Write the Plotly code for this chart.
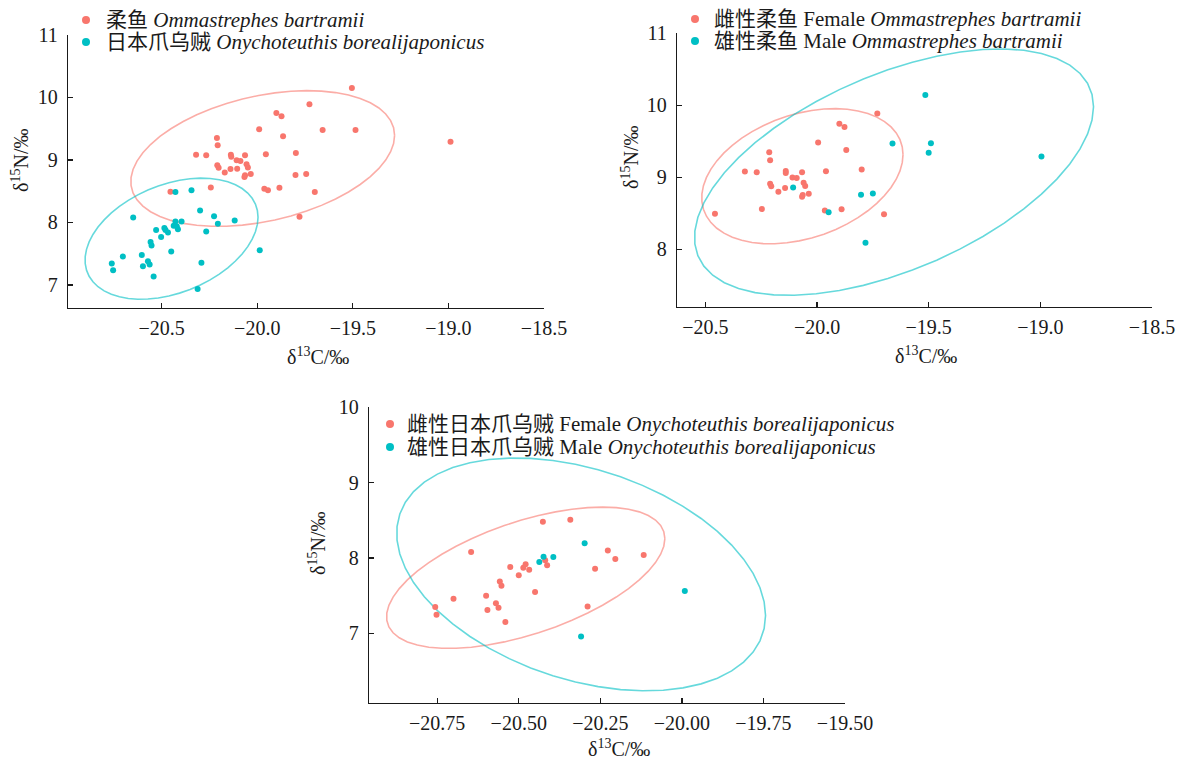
import numpy as np
import plotly.graph_objects as go

# ---------------- data ----------------
# Panel 1: all Ommastrephes bartramii (柔鱼)
ob_x = [-19.505, -19.727, -19.900, -19.873, -19.990, -19.658, -19.486, -19.865, -20.211, -20.207,
        -18.989, -20.320, -20.267, -20.138, -20.136, -20.064, -19.955, -19.798, -20.108, -20.088,
        -20.209, -20.202, -20.170, -20.140, -20.105, -20.056, -20.049, -20.034, -20.064, -20.067,
        -19.800, -19.744, -20.243, -19.963, -19.944, -19.884, -19.699, -20.454, -19.779]
ob_y = [10.15, 9.89, 9.75, 9.70, 9.49, 9.48, 9.48, 9.38, 9.35, 9.235,
        9.29, 9.085, 9.075, 9.085, 9.05, 9.075, 9.09, 9.11, 8.995, 8.984,
        8.914, 8.877, 8.80, 8.856, 8.86, 8.93, 8.88, 8.775, 8.754, 8.727,
        8.76, 8.775, 8.56, 8.54, 8.513, 8.556, 8.487, 8.49, 8.09]

# Panel 1: all Onychoteuthis borealijaponicus (日本爪乌贼)
obj_x = [-20.428, -20.344, -20.299, -20.226, -20.206, -20.118, -20.649, -20.428, -20.396, -20.437,
         -20.421, -20.415, -20.529, -20.486, -20.480, -20.467, -20.503, -20.267, -20.558, -20.553,
         -20.450, -19.987, -20.703, -20.604, -20.761, -20.754, -20.598, -20.572, -20.563, -20.292,
         -20.542, -20.312]
obj_y = [8.487, 8.513, 8.19, 8.10, 7.98, 8.03, 8.08, 8.016, 8.016, 7.947,
         7.94, 7.89, 7.877, 7.91, 7.877, 7.84, 7.765, 7.856, 7.685, 7.63,
         7.535, 7.556, 7.455, 7.48, 7.342, 7.235, 7.30, 7.38, 7.326, 7.353,
         7.134, 6.936]

# Panel 2: female / male Ommastrephes bartramii
obf_x = [-19.730, -19.900, -19.877, -19.995, -19.869, -20.214, -20.210, -20.323, -20.270, -20.140,
         -20.140, -20.067, -19.960, -19.800, -20.110, -20.091, -20.210, -20.205, -20.173, -20.143,
         -20.060, -20.053, -20.067, -20.064, -20.037, -20.247, -19.965, -19.890, -19.700, -20.457]
obf_y = [9.885, 9.745, 9.70, 9.485, 9.378, 9.347, 9.236, 9.08, 9.072, 9.088,
         9.062, 9.072, 9.085, 9.11, 8.998, 8.99, 8.91, 8.875, 8.80, 8.852,
         8.925, 8.88, 8.73, 8.755, 8.773, 8.56, 8.54, 8.557, 8.487, 8.493]
obm_x = [-19.515, -19.662, -19.490, -19.500, -20.107, -19.948, -19.803, -19.750, -19.783, -18.995]
obm_y = [10.145, 9.47, 9.475, 9.343, 8.86, 8.515, 8.757, 8.774, 8.093, 9.288]

# Panel 3: female / male Onychoteuthis borealijaponicus
objf_x = [-20.342, -20.426, -20.646, -20.526, -20.486, -20.479, -20.468, -20.500, -20.419, -20.413,
          -20.558, -20.553, -20.600, -20.700, -20.570, -20.562, -20.596, -20.450, -20.541, -20.756,
          -20.752, -20.289, -20.266, -20.227, -20.204, -20.117]
objf_y = [8.509, 8.482, 8.08, 7.88, 7.87, 7.916, 7.845, 7.77, 7.969, 7.903,
          7.69, 7.633, 7.50, 7.46, 7.40, 7.34, 7.31, 7.549, 7.15, 7.35,
          7.248, 7.358, 7.858, 8.10, 7.987, 8.04]
objm_x = [-20.298, -20.424, -20.394, -20.437, -19.991, -20.309]
objm_y = [8.195, 8.018, 8.013, 7.947, 7.562, 6.96]

names_p1 = ["柔鱼 <i>Ommastrephes bartramii</i>",
            "日本爪乌贼 <i>Onychoteuthis borealijaponicus</i>"]
names_p2 = ["雌性柔鱼 Female <i>Ommastrephes bartramii</i>",
            "雄性柔鱼 Male <i>Ommastrephes bartramii</i>"]
names_p3 = ["雌性日本爪乌贼 Female <i>Onychoteuthis borealijaponicus</i>",
            "雄性日本爪乌贼 Male <i>Onychoteuthis borealijaponicus</i>"]

x_ticks_p1 = [-20.5, -20.0, -19.5, -19.0, -18.5]
y_ticks_p1 = [7, 8, 9, 10, 11]
x_ticks_p2 = [-20.5, -20.0, -19.5, -19.0, -18.5]
y_ticks_p2 = [8, 9, 10, 11]
x_ticks_p3 = [-20.75, -20.50, -20.25, -20.00, -19.75, -19.50]
y_ticks_p3 = [7, 8, 9, 10]

# ---------------- styling ----------------
RED = "#F8766D"
TEAL = "#00BFC4"
RED_L = "rgba(248,118,109,0.6)"
TEAL_L = "rgba(0,191,196,0.6)"
FONT = "Liberation Serif, 'Noto Sans CJK SC', serif"
INK = "#1a1a1a"
W, H = 1184, 762


def stat_ellipse(x, y, level=0.95, segments=51):
    """ggplot2 stat_ellipse(type='norm'): sample covariance, F-based radius."""
    X = np.column_stack([x, y]).astype(float)
    n = X.shape[0]
    center = X.mean(axis=0)
    cov = np.cov(X, rowvar=False)
    dfd = n - 1
    qf = dfd / 2.0 * ((1 - level) ** (-2.0 / dfd) - 1)   # qf(level, 2, dfd)
    radius = np.sqrt(2 * qf)
    t = np.linspace(0, 2 * np.pi, segments + 1)
    circle = np.column_stack([np.cos(t), np.sin(t)])
    U = np.linalg.cholesky(cov).T
    e = center + radius * circle @ U
    return e[:, 0], e[:, 1]


fig = go.Figure()

panels = [
    dict(xa="x", ya="y", sets=[(ob_x, ob_y, RED, RED_L), (obj_x, obj_y, TEAL, TEAL_L)]),
    dict(xa="x2", ya="y2", sets=[(obf_x, obf_y, RED, RED_L), (obm_x, obm_y, TEAL, TEAL_L)]),
    dict(xa="x3", ya="y3", sets=[(objf_x, objf_y, RED, RED_L), (objm_x, objm_y, TEAL, TEAL_L)]),
]

for pn in panels:
    for (xs, ys, col, lcol) in pn["sets"]:
        ex, ey = stat_ellipse(xs, ys)
        fig.add_trace(go.Scatter(x=ex, y=ey, mode="lines", line=dict(color=lcol, width=1.6),
                                 xaxis=pn["xa"], yaxis=pn["ya"], showlegend=False,
                                 hoverinfo="skip"))
    for (xs, ys, col, lcol) in pn["sets"]:
        fig.add_trace(go.Scatter(x=xs, y=ys, mode="markers",
                                 marker=dict(color=col, size=6, line=dict(width=0)),
                                 xaxis=pn["xa"], yaxis=pn["ya"], showlegend=False))


def px2x(px):
    return px / W


def px2y(py):
    return 1 - py / H


axis_common = dict(showline=True, linecolor=INK, linewidth=1.3, ticks="inside",
                   ticklen=5, tickwidth=1.3, tickcolor=INK, showgrid=False,
                   zeroline=False, tickfont=dict(family=FONT, size=20, color=INK),
                   automargin=False)
xax = dict(axis_common, ticklabelstandoff=2)
yax = dict(axis_common, ticklabelstandoff=5)

fig.update_layout(
    width=W, height=H, margin=dict(l=0, r=0, t=0, b=0, autoexpand=False),
    paper_bgcolor="white", plot_bgcolor="white", hovermode=False, showlegend=False,
    font=dict(family=FONT, size=20, color=INK),
    xaxis=dict(xax, domain=[px2x(68), px2x(544)], range=[-20.99, -18.5],
               tickvals=x_ticks_p1, tickformat=".1f", anchor="y"),
    yaxis=dict(yax, domain=[px2y(308), px2y(35)], range=[6.63, 11.0],
               tickvals=y_ticks_p1, anchor="x"),
    xaxis2=dict(xax, domain=[px2x(677), px2x(1152)], range=[-20.627, -18.5],
                tickvals=x_ticks_p2, tickformat=".1f", anchor="y2"),
    yaxis2=dict(yax, domain=[px2y(306.7), px2y(33.3)], range=[7.204, 11.0],
                tickvals=y_ticks_p2, anchor="x2"),
    xaxis3=dict(xax, domain=[px2x(369), px2x(845)], range=[-20.959, -19.5],
                tickvals=x_ticks_p3, tickformat=".2f", anchor="y3"),
    yaxis3=dict(yax, domain=[px2y(702.7), px2y(407.3)], range=[6.08, 10.0],
                tickvals=y_ticks_p3, anchor="x3"),
)

# legends: (marker x, text x, row y) in pixels, drawn as real text + marker shapes
legend_specs = [
    (86, 104, [20, 42], names_p1),
    (695, 712, [19, 41], names_p2),
    (390, 405, [424, 447], names_p3),
]
for (mx, tx, rows, names) in legend_specs:
    for ry, nm, col in zip(rows, names, [RED, TEAL]):
        fig.add_shape(type="circle", xref="paper", yref="paper",
                      xsizemode="pixel", ysizemode="pixel",
                      xanchor=px2x(mx), yanchor=px2y(ry),
                      x0=-4, x1=4, y0=-4, y1=4,
                      fillcolor=col, line=dict(width=0))
        fig.add_annotation(x=px2x(tx), y=px2y(ry), xref="paper", yref="paper", text=nm,
                           showarrow=False, xanchor="left", yanchor="middle",
                           font=dict(family=FONT, size=21, color=INK))

xt = "δ<sup>13</sup>C/‰"
yt = "δ<sup>15</sup>N/‰"
titles = [
    (318, 356, xt, 0), (20, 161, yt, -90),
    (926, 355, xt, 0), (630, 158, yt, -90),
    (619, 748, xt, 0), (317, 544, yt, -90),
]
for (tx, ty, txt, ang) in titles:
    fig.add_annotation(x=px2x(tx), y=px2y(ty), xref="paper", yref="paper", text=txt,
                       showarrow=False, textangle=ang, xanchor="center", yanchor="middle",
                       font=dict(family=FONT, size=20, color=INK))

fig.write_html("out.html", config={"displayModeBar": False, "staticPlot": True},
               post_script="document.body.style.margin='0px';")
